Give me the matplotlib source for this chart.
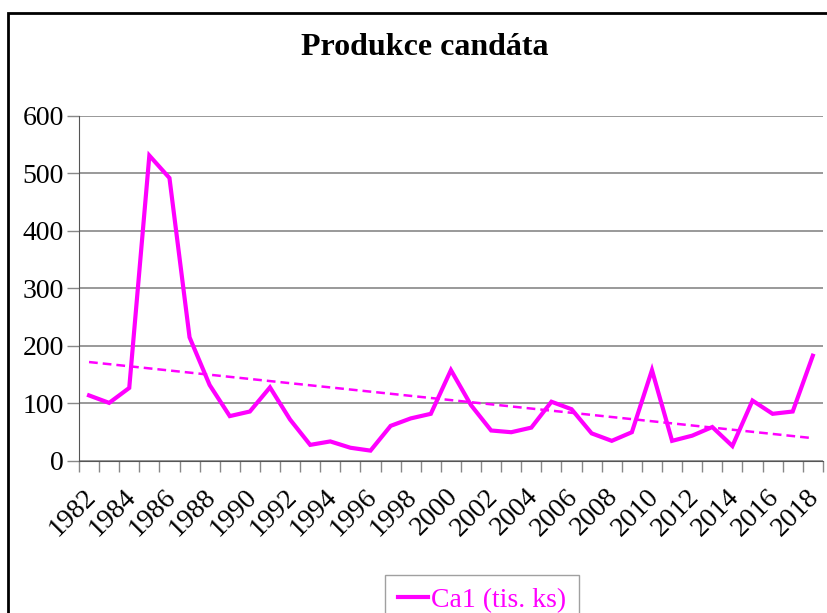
import numpy as np
import matplotlib
matplotlib.use('Agg')
import matplotlib.pyplot as plt
import matplotlib.transforms as mtransforms
from matplotlib.patches import Rectangle

years = list(range(1982, 2019))
ca1 = [114, 101, 127, 531, 492, 215, 132, 78, 86, 128,
       72, 28, 34, 23, 18, 61, 74, 82, 158, 97,
       53, 50, 58, 103, 90, 48, 35, 50, 158, 35,
       44, 59, 26, 105, 82, 86, 183]
yticks = [0, 100, 200, 300, 400, 500, 600]

MAG = '#ff00ff'
plt.rcParams['font.family'] = ['Liberation Serif', 'DejaVu Serif']

fig = plt.figure(figsize=(8.27, 6.13), dpi=100)
ax = fig.add_axes([0.0955, 0.248, 0.8995, 0.563])

x = np.arange(len(years))
ax.plot(x, ca1, color=MAG, lw=3, label='Ca1 (tis. ks)', solid_joinstyle='miter')

# linear trend
k, q = np.polyfit(x, ca1, 1)
ax.plot(x, k*x + q, color=MAG, lw=1.8, ls=(0, (3.5, 2)))

ax.set_xlim(-0.5, len(years) - 0.5)
ax.set_ylim(0, 600)
ax.set_yticks(yticks)
ax.yaxis.grid(True, color='#888888', lw=1.2)
ax.set_axisbelow(True)

ax.set_xticks(x[::2])
ax.set_xticklabels([str(y) for y in years[::2]], rotation=45, ha='right',
                   rotation_mode='anchor', fontsize=20)
ax.set_xticks(np.arange(-0.5, len(years), 1), minor=True)
ax.tick_params(axis='x', which='major', length=0, pad=13)
ax.tick_params(axis='x', which='minor', length=8, color='#888888', width=1)
ax.tick_params(axis='y', length=9, color='#888888', width=1, labelsize=20, pad=2)

# nudge rotated year labels a bit left/down
shift = mtransforms.ScaledTranslation(-0.06, -0.05, fig.dpi_scale_trans)
for lab in ax.get_xticklabels():
    lab.set_transform(lab.get_transform() + shift)

for s in ['top', 'right']:
    ax.spines[s].set_visible(False)
ax.spines['left'].set_color('#555555')
ax.spines['bottom'].set_color('#555555')

fig.text(0.514, 0.922, 'Produkce candáta', ha='center', va='center',
         fontsize=23, fontweight='bold')

leg = fig.legend(loc='upper center', bbox_to_anchor=(0.583, 0.062),
                 borderaxespad=0, frameon=True, fancybox=False, fontsize=20,
                 handlelength=1.1, handletextpad=0.1, borderpad=0.45)
leg.get_frame().set_edgecolor('#888888')
for t in leg.get_texts():
    t.set_color(MAG)

fig.patches.append(Rectangle((8/827, -0.1), 1.2, 1 - 13/613 + 0.1,
                             transform=fig.transFigure, fill=False,
                             edgecolor='black', lw=2))

fig.savefig('out.png', dpi=100)
